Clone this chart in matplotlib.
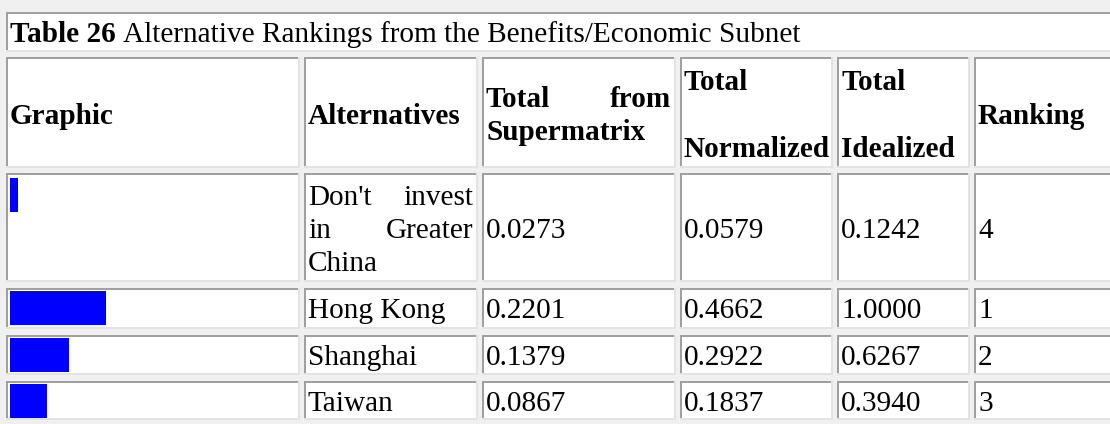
import matplotlib
matplotlib.use("Agg")
import matplotlib.pyplot as plt
from matplotlib.patches import Rectangle

plt.rcParams['font.family'] = ['Liberation Serif', 'DejaVu Serif']

# table content
title_bold = "Table 26"
title_rest = "Alternative Rankings from the Benefits/Economic Subnet"
alternatives = ["Don't invest in Greater China", "Hong Kong", "Shanghai", "Taiwan"]
supermatrix = ["0.0273", "0.2201", "0.1379", "0.0867"]
normalized = ["0.0579", "0.4662", "0.2922", "0.1837"]
idealized = ["0.1242", "1.0000", "0.6267", "0.3940"]
ranking = ["4", "1", "2", "3"]
# bar lengths in the Graphic column (Hong Kong = 1)
bar_len = [0.08, 1.0, 0.615, 0.385]

W, H = 1110, 424
PX = 29.2
FS = PX * 0.72

dark = "#a0a0a0"
light = "#e3e3e3"
page = "#f0f0f0"

col_l = [6, 304, 482, 680, 837, 974]
col_r = [300, 478, 676, 833, 970, 1130]
row_tb = [(57, 168), (173, 282), (288, 329), (335, 375), (381, 420)]

fig = plt.figure(figsize=(W / 100, H / 100), dpi=100, facecolor=page)
ax = fig.add_axes([0, 0, 1, 1])
ax.set_xlim(0, W)
ax.set_ylim(H, 0)
ax.axis('off')


def cell(x0, x1, y0, y1):
    ax.add_patch(Rectangle((x0, y0), x1 - x0, y1 - y0, facecolor="white", edgecolor="none"))
    ax.add_patch(Rectangle((x0, y0), x1 - x0, 2, facecolor=dark, edgecolor="none"))
    ax.add_patch(Rectangle((x0, y0), 2, y1 - y0, facecolor=dark, edgecolor="none"))
    ax.add_patch(Rectangle((x0, y1 - 2), x1 - x0, 2, facecolor=light, edgecolor="none"))
    ax.add_patch(Rectangle((x1 - 2, y0), 2, y1 - y0, facecolor=light, edgecolor="none"))


def txt(x, y, s, bold=False, ha="left"):
    return ax.text(x, y, s, fontsize=FS, ha=ha, va="baseline",
                   fontweight="bold" if bold else "normal", color="black")


def justify(xl, xr, y, words, bold=False):
    txt(xl, y, words[0], bold)
    txt(xr, y, words[-1], bold, ha="right")


# title cell
cell(6, 1130, 12, 52)
t1 = txt(10, 42, title_bold, bold=True)
fig.canvas.draw()
bb = t1.get_window_extent(fig.canvas.get_renderer())
txt(10 + bb.width + PX * 0.25, 42, title_rest)

for (y0, y1) in row_tb:
    for x0, x1 in zip(col_l, col_r):
        cell(x0, x1, y0, y1)

# header
txt(10, 124, "Graphic", bold=True)
txt(308, 124, "Alternatives", bold=True)
justify(486, 671, 107, ["Total", "from"], bold=True)
txt(486, 140, "Supermatrix", bold=True)
txt(684, 90, "Total", bold=True)
txt(684, 157, "Normalized", bold=True)
txt(841, 90, "Total", bold=True)
txt(841, 157, "Idealized", bold=True)
txt(978, 124, "Ranking", bold=True)

# data rows
base = [238, 318, 365, 411]
for i in range(4):
    y = base[i]
    if i == 0:
        w = alternatives[0].split()
        justify(308, 473, 205, w[0:2])
        justify(308, 473, 238, w[2:4])
        txt(308, 271, w[4])
    else:
        txt(308, y, alternatives[i])
    txt(486, y, supermatrix[i])
    txt(684, y, normalized[i])
    txt(841, y, idealized[i])
    txt(978, y, ranking[i])

# graphic bars
gax = fig.add_axes([10 / W, 0, 288 / W, 1])
gax.set_xlim(0, 3.0)
gax.set_ylim(H, 0)
gax.axis('off')
gax.patch.set_alpha(0)
bar_y = [195, 308, 355, 401]
gax.barh(bar_y, bar_len, height=34, left=0, color="#0000ff", align="center")

fig.savefig("out.png", dpi=100, facecolor=page)
